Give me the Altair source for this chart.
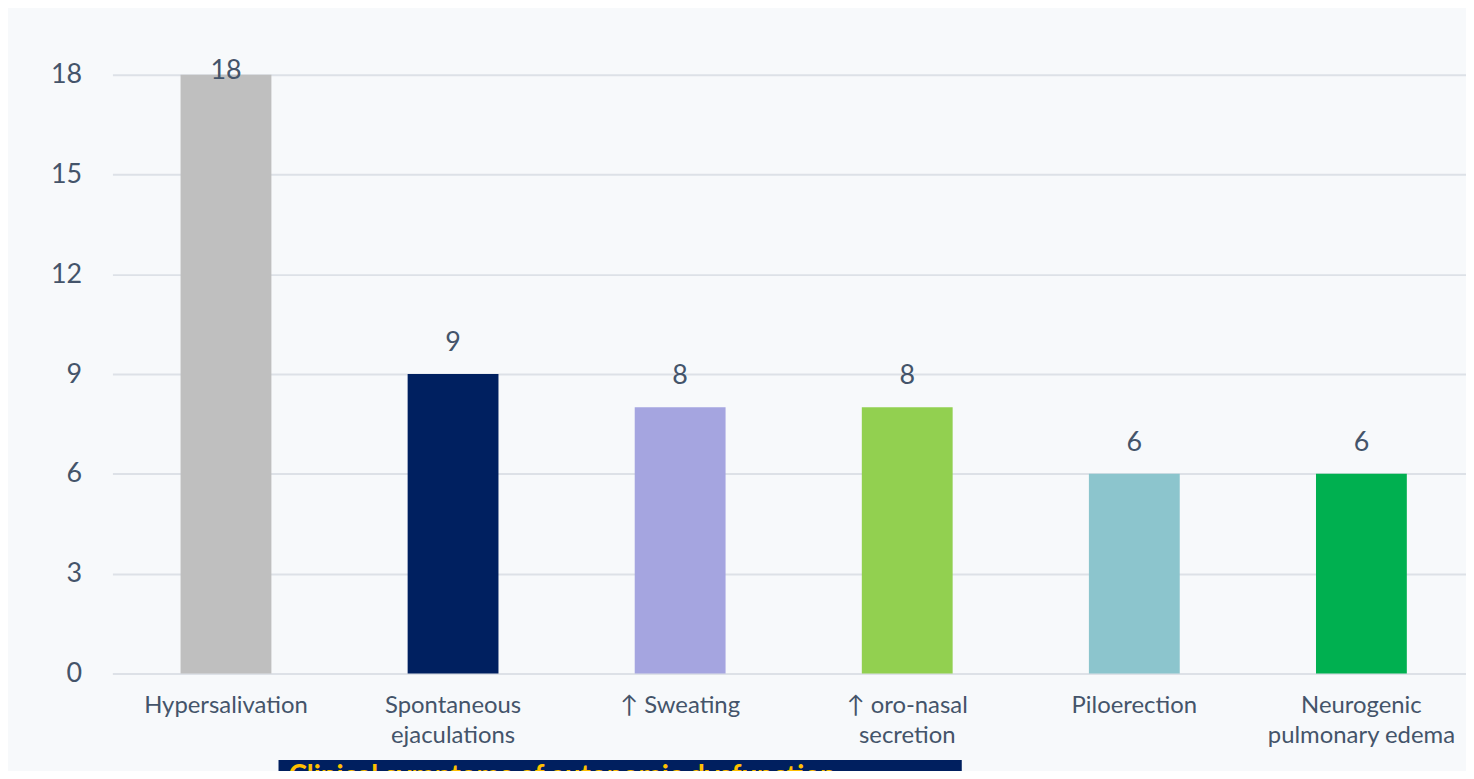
import altair as alt
import pandas as pd

categories = ["Hypersalivation", "Spontaneous\nejaculations", "↑ Sweating",
              "↑ oro-nasal\nsecretion", "Piloerection", "Neurogenic\npulmonary edema"]
values = [18, 9, 8, 8, 6, 6]
colors = ["#BFBFBF", "#002060", "#A5A5E0", "#92D050", "#8CC5CD", "#00B050"]
y_ticks = [0, 3, 6, 9, 12, 15, 18]
banner_text = ["Clinical symptoms of autonomic dysfunction"]

df = pd.DataFrame({"symptom": categories, "count": values})
banner = pd.DataFrame({"title": banner_text})

TEXT = "#44546A"
FONT = "Lato"
W, H = 1361, 602

x_enc = alt.X("symptom:N", sort=categories,
              scale=alt.Scale(range=[0, 1370], paddingInner=0.6, paddingOuter=0.3),
              axis=alt.Axis(title=None, labelAngle=0, labelExpr="split(datum.label, '\\n')",
                            labelFont=FONT, labelFontSize=24, labelColor=TEXT,
                            labelLineHeight=30, labelPadding=20, ticks=False, labelLimit=400,
                            domainColor="#DDE1E7", domainWidth=2, labelBaseline="top"))
y_enc = alt.Y("count:Q", scale=alt.Scale(domain=[0, 18], nice=False),
              axis=alt.Axis(title=None, values=y_ticks, labelFont=FONT, labelFontSize=27,
                            labelColor=TEXT, labelPadding=31, ticks=False, domain=False,
                            gridColor="#DDE1E7", gridWidth=2))

base = alt.Chart(df)
bars = base.mark_bar().encode(
    x=x_enc, y=y_enc,
    color=alt.Color("symptom:N", sort=categories,
                    scale=alt.Scale(domain=categories, range=colors), legend=None),
)
labels_out = base.transform_filter("datum.count < 17").mark_text(
    baseline="alphabetic", dy=-23, font=FONT, fontSize=27, color=TEXT
).encode(x=alt.X("symptom:N", sort=categories), y="count:Q", text="count:Q")
labels_in = base.transform_filter("datum.count >= 17").mark_text(
    baseline="alphabetic", dy=4, font=FONT, fontSize=27, color=TEXT
).encode(x=alt.X("symptom:N", sort=categories), y="count:Q", text="count:Q")

box = alt.Chart(banner).mark_rect(color="#001F5F").encode(
    x=alt.value(167), x2=alt.value(854), y=alt.value(689), y2=alt.value(740))
box_text = alt.Chart(banner).mark_text(
    align="left", baseline="top", font=FONT, fontSize=28, fontWeight="bold", color="#FFC000"
).encode(x=alt.value(177), y=alt.value(692), text="title:N")

chart = alt.layer(bars, labels_out, labels_in, box, box_text).properties(
    width=W, height=H,
    autosize=alt.AutoSizeParams(type="none"),
    padding={"left": 105, "top": 65, "right": 0, "bottom": 96},
    background="#F7F9FB",
).configure_view(stroke=None)

chart.save("out.html", embed_options={"renderer": "svg", "actions": False})
